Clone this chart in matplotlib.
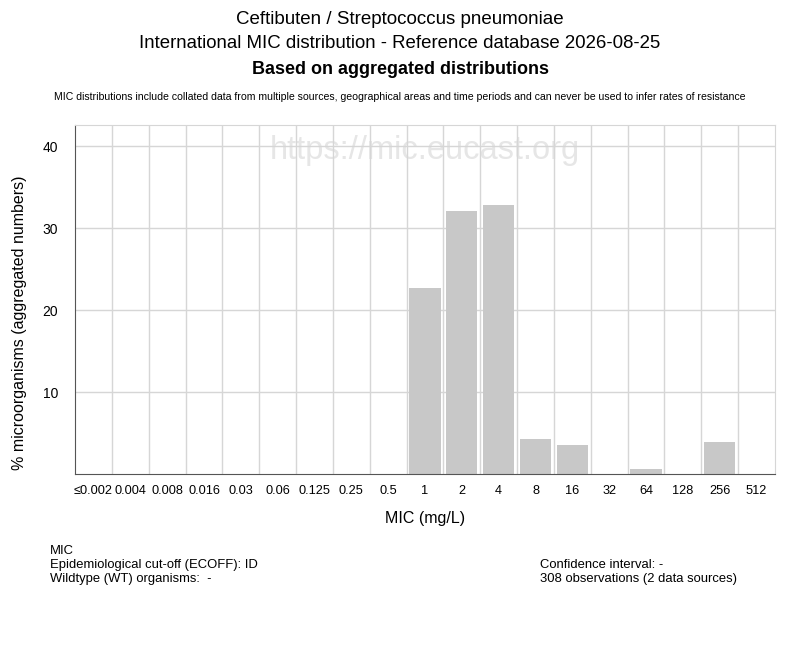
import matplotlib
matplotlib.use("Agg")
import matplotlib.pyplot as plt

mic_labels = ["≤0.002", "0.004", "0.008", "0.016", "0.03", "0.06", "0.125", "0.25", "0.5",
              "1", "2", "4", "8", "16", "32", "64", "128", "256", "512"]
counts = [0, 0, 0, 0, 0, 0, 0, 0, 0, 70, 99, 101, 13, 11, 0, 2, 0, 12, 0]
total_obs = 308
percents = [c / total_obs * 100 for c in counts]
y_ticks = [10, 20, 30, 40]

plt.rcParams['font.family'] = ['Liberation Sans', 'DejaVu Sans']

fig = plt.figure(figsize=(8, 6.5), dpi=100)
ax = fig.add_axes([75/800, 1-474/650, 700/800, (474-125)/650])

x = list(range(len(mic_labels)))
ax.bar(x, percents, width=0.85, color="#c8c8c8", zorder=2)
ax.set_xlim(-0.5, len(mic_labels) - 0.5)
ax.set_ylim(0, 42.6)
ax.set_xticks(x)
ax.set_xticklabels(mic_labels, fontsize=9.2)
ax.set_yticks(y_ticks)
ax.set_yticklabels([str(t) for t in y_ticks], fontsize=10)
ax.tick_params(length=0, pad=8)
ax.tick_params(axis='y', pad=12)
for b in [i + 0.5 for i in range(len(mic_labels) - 1)]:
    ax.axvline(b, color="#d6d6d6", lw=1, zorder=1)
for t in y_ticks:
    ax.axhline(t, color="#d6d6d6", lw=1, zorder=1)
for s in ["top", "right"]:
    ax.spines[s].set_color("#d6d6d6")
for s in ["left", "bottom"]:
    ax.spines[s].set_color("#555555")
ax.set_ylabel("% microorganisms (aggregated numbers)", fontsize=11.5, labelpad=16)
ax.yaxis.set_label_coords(-48/700, 0.433)
ax.set_xlabel("MIC (mg/L)", fontsize=11.5, labelpad=10)

ax.text(0.5, 0.928, "https://mic.eucast.org", transform=ax.transAxes, ha="center", va="center",
        fontsize=23.5, color="#e6e6e6", zorder=0)

fig.text(0.5, 1-19/650, "Ceftibuten / Streptococcus pneumoniae", ha="center", va="center", fontsize=13.5)
fig.text(0.5, 1-44/650, "International MIC distribution - Reference database 2026-08-25", ha="center", va="center", fontsize=13.4)
fig.text(0.5, 1-69/650, "Based on aggregated distributions", ha="center", va="center", fontsize=13, fontweight="bold")
fig.text(0.5, 1-97/650, "MIC distributions include collated data from multiple sources, geographical areas and time periods and can never be used to infer rates of resistance",
         ha="center", va="center", fontsize=7.6)

fig.text(50/800, 1-551/650, "MIC", ha="left", va="center", fontsize=9.4)
fig.text(50/800, 1-565/650, "Epidemiological cut-off (ECOFF): ID", ha="left", va="center", fontsize=9.4)
fig.text(50/800, 1-579/650, "Wildtype (WT) organisms:  -", ha="left", va="center", fontsize=9.4)
fig.text(540/800, 1-565/650, "Confidence interval: -", ha="left", va="center", fontsize=9.4)
fig.text(540/800, 1-579/650, f"{total_obs} observations (2 data sources)", ha="left", va="center", fontsize=9.4)

fig.savefig("out.png", dpi=100)
